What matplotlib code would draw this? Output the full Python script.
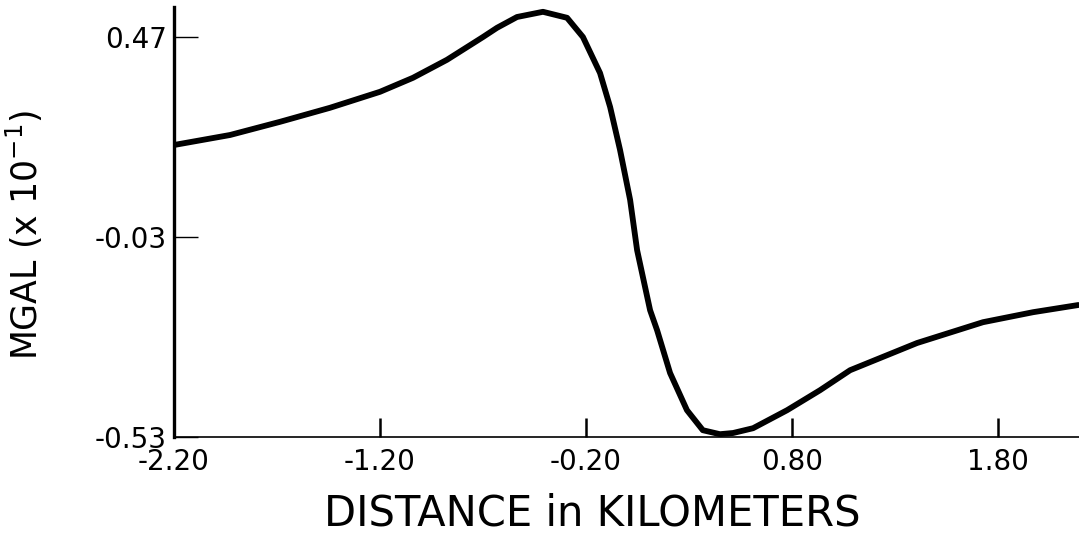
import matplotlib
matplotlib.use('Agg')
import matplotlib.pyplot as plt

# Gravity profile
distance_km = [-2.20, -1.928, -1.685, -1.443, -1.20, -1.040, -0.875, -0.700, -0.632,
               -0.535, -0.409, -0.292, -0.215, -0.132, -0.083, -0.035, 0.014, 0.048,
               0.111, 0.145, 0.208, 0.290, 0.367, 0.450, 0.514, 0.611, 0.776, 0.936,
               1.082, 1.407, 1.727, 1.970, 2.19]
mgal = [0.200, 0.225, 0.258, 0.293, 0.333, 0.368, 0.413, 0.470, 0.493,
        0.520, 0.533, 0.518, 0.470, 0.380, 0.295, 0.188, 0.063, -0.063,
        -0.213, -0.263, -0.370, -0.463, -0.513, -0.523, -0.520, -0.508, -0.463, -0.413,
        -0.363, -0.295, -0.243, -0.218, -0.200]

x_ticks = [-2.20, -1.20, -0.20, 0.80, 1.80]
x_labels = ['-2.20', '-1.20', '-0.20', '0.80', '1.80']
y_ticks = [0.47, -0.03, -0.53]
y_labels = ['0.47', '-0.03', '-0.53']

plt.rcParams['font.family'] = ['DejaVu Sans']

fig = plt.figure(figsize=(10.79, 5.45), dpi=100)
ax = fig.add_axes([174 / 1079, 1 - 437 / 545, 1 - 174 / 1079, (437 - 7) / 545])

ax.plot(distance_km, mgal, color='black', linewidth=4.2,
        solid_capstyle='round', solid_joinstyle='round')

ax.set_xlim(-2.20, 2.193)
ax.set_ylim(-0.53, 0.545)

ax.spines['top'].set_visible(False)
ax.spines['right'].set_visible(False)
ax.spines['left'].set_linewidth(2.4)
ax.spines['bottom'].set_linewidth(1.2)

ax.set_xticks(x_ticks)
ax.set_xticklabels(x_labels)
ax.set_yticks(y_ticks)
ax.set_yticklabels(y_labels)
ax.tick_params(axis='x', direction='in', length=14, width=1.8, pad=8, labelsize=20)
ax.tick_params(axis='y', direction='in', length=17, width=1.0, pad=5, labelsize=20)

ax.set_xlabel('DISTANCE in KILOMETERS', fontsize=30)
ax.xaxis.set_label_coords(0.462, -0.128)
ax.set_ylabel(r'MGAL (x 10$^{-1}$)', fontsize=25)
ax.yaxis.set_label_coords(-0.143, 0.47)

fig.savefig('out.png', dpi=100)
